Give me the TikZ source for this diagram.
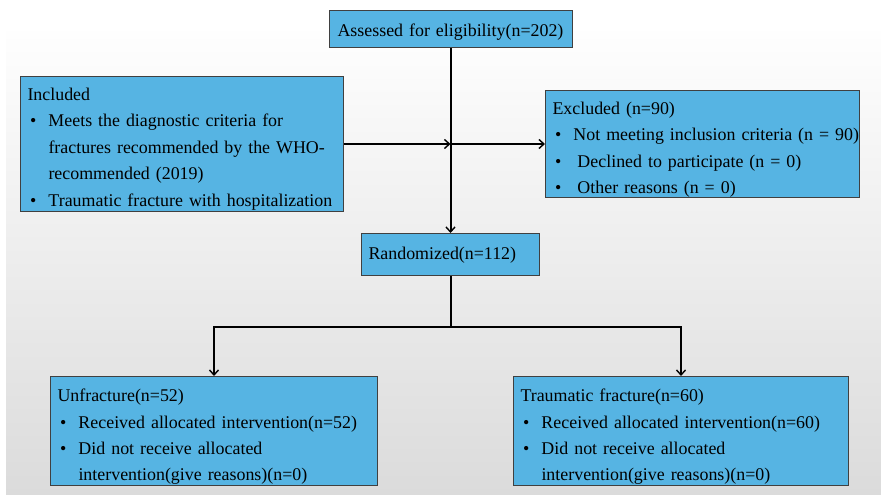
\documentclass[tikz,border=0pt]{standalone}
\usepackage{fontspec}
\setmainfont{Liberation Serif}
\usetikzlibrary{arrows.meta}
\definecolor{boxblue}{RGB}{86,180,227}
\definecolor{bgtop}{RGB}{254,254,254}
\definecolor{bgbot}{RGB}{219,219,219}
\newcommand{\bitem}[1]{\mbox{\makebox[21pt][l]{\hspace{2.5pt}\textbullet}#1}}
\newcommand{\bcont}[1]{\mbox{\hspace*{21pt}#1}}
\newcommand{\tgap}[2]{\raisebox{0pt}[\dimexpr\height+#1\relax]{#2}}
\tikzset{
  box/.style={draw=black!75, line width=1pt, fill=boxblue, anchor=north west,
    inner xsep=7pt, inner ysep=0pt, align=left, text=black,
    font=\fontsize{17.9}{26.4}\selectfont},
  arr/.style={line width=2pt, -{Straight Barb[length=5pt,width=9pt,line width=1.4pt]}},
  ln/.style={line width=2pt}
}
\begin{document}
\begin{tikzpicture}[x=1pt,y=-1pt]
\useasboundingbox (0,0) rectangle (881,495);
\shade[top color=bgtop, bottom color=bgbot] (6,32) rectangle (881,495);

\node[box, text width=229pt, minimum height=37pt, align=center] (ass) at (328.5,10)
  {\tgap{6pt}{Assessed for eligibility(n=202)}};
\node[box, text width=309pt, minimum height=135pt] (inc) at (20,76)
  {\tgap{10pt}{Included}\\
   \bitem{Meets the diagnostic criteria for}\\
   \bcont{fractures recommended by the WHO-}\\
   \bcont{recommended (2019)}\\
   \bitem{Traumatic fracture with hospitalization}};
\node[box, text width=300pt, minimum height=107pt] (exc) at (545,90)
  {\tgap{11pt}{Excluded (n=90)}\\
   \bitem{Not meeting inclusion criteria (n = 90)}\\
   \bitem{\hspace{4pt}Declined to participate (n = 0)}\\
   \bitem{\hspace{4pt}Other reasons (n = 0)}};
\node[box, text width=164pt, minimum height=42pt] (ran) at (361,233)
  {\tgap{2pt}{Randomized(n=112)}};
\node[box, text width=313pt, minimum height=109pt] (unf) at (50,376)
  {\tgap{12pt}{Unfracture(n=52)}\\
   \bitem{Received allocated intervention(n=52)}\\
   \bitem{Did not receive allocated}\\
   \bcont{intervention(give reasons)(n=0)}};
\node[box, text width=321pt, minimum height=109pt] (tra) at (513,376)
  {\tgap{12pt}{Traumatic fracture(n=60)}\\
   \bitem{Received allocated intervention(n=60)}\\
   \bitem{Did not receive allocated}\\
   \bcont{intervention(give reasons)(n=0)}};

\coordinate (j1) at (inc.east -| ass.south);
\draw[arr] (ass.south) -- (ran.north);
\draw[arr] (inc.east) -- (j1);
\draw[arr] (j1) -- (exc.west);
\draw[ln] (ran.south) -- ++(0,51) coordinate (split);
\draw[arr] (split) -| (unf.north);
\draw[arr] (split) -| (tra.north);
\end{tikzpicture}
\end{document}
